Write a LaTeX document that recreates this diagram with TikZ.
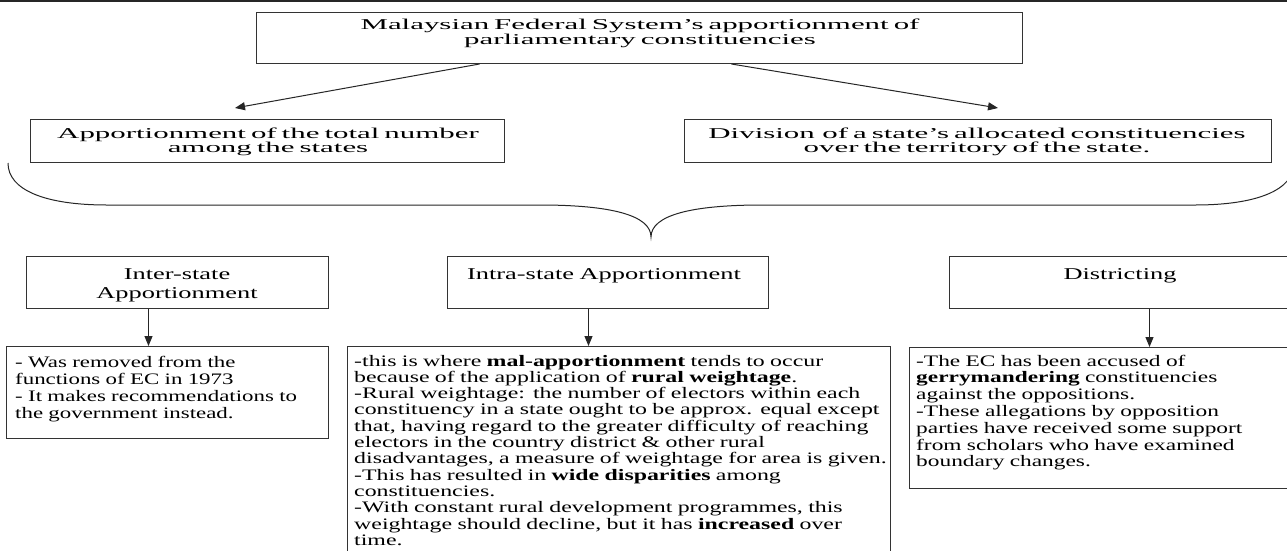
\documentclass[tikz,border=0pt]{standalone}
\usepackage{fontspec}
\setmainfont{Liberation Serif}
\newfontfamily\fA[FakeStretch=2.06]{Liberation Serif}
\newfontfamily\fB[FakeStretch=1.6]{Liberation Serif}
\newfontfamily\fC[FakeStretch=1.43]{Liberation Serif}
\newfontfamily\fD[FakeStretch=1.49]{Liberation Serif}
\newfontfamily\fE[FakeStretch=1.46]{Liberation Serif}
\usetikzlibrary{arrows.meta,calc}
\begin{document}
\begin{tikzpicture}[x=1pt,y=-1pt,
  box/.style={draw=black!80, line width=1pt, inner sep=0pt, anchor=north west},
  arr/.style={-{Triangle[length=10pt,width=8pt]}, line width=1pt, draw=black!85},
  ttop/.style={anchor=base, inner sep=0pt, text width=760pt, align=center, font=\fA\fontsize{15}{15}\selectfont},
  tlev/.style={anchor=base, inner sep=0pt, text width=580pt, align=center, font=\fA\fontsize{15}{14.4}\selectfont},
  tmid/.style={anchor=base, inner sep=0pt, text width=330pt, align=center, font=\fB\fontsize{16.5}{19}\selectfont},
  tbot/.style={anchor=base west, inner sep=0pt, text width=600pt, align=left},
]
\useasboundingbox (0,0) rectangle (1287,550);
\fill[white] (0,0) rectangle (1287,550);
\draw[line width=1.5pt, black!85] (0,0.75) -- (1287,0.75);

% level 1
\node[box, minimum width=766pt, minimum height=51pt] (top) at (256,12) {};
\node[ttop] (topt) at (640,29) {Malaysian Federal System’s apportionment of\\parliamentary constituencies};

% level 2
\node[box, minimum width=474pt, minimum height=43pt] (lbox) at (30,119) {};
\node[tlev] (lboxt) at (268,138.3) {Apportionment of the total number\\among the states};
\node[box, minimum width=587pt, minimum height=43pt] (rbox) at (684,119) {};
\node[tlev] (rboxt) at (977,138.3) {Division\, of a state’s allocated constituencies\\over the territory of the state.};

\coordinate (tipL) at (235,108);
\coordinate (tipR) at (998,108);
\draw[arr] ([xshift=-160pt]top.south) -- (tipL);
\draw[arr] ([xshift=92pt]top.south) -- (tipR);

% brace
\coordinate (brL) at (8,163);
\coordinate (brR) at (1294,163);
\coordinate (brT) at (651,237);
\draw[line width=1pt, black!85] (brL) .. controls (8,190) and (45,205) .. (107,205) -- (540,205)
  .. controls (610,205) and (651,215) .. (brT)
  .. controls (651,215) and (692,205) .. (762,205) -- (1195,205)
  .. controls (1257,205) and (1294,190) .. (brR);

% level 3
\node[box, minimum width=302pt, minimum height=52pt] (inter) at (26,256) {};
\node[tmid] (intert) at (177,279) {Inter-state\\Apportionment};
\node[box, minimum width=321pt, minimum height=52pt] (intra) at (447,256) {};
\node[tmid] (intrat) at (604,279) {Intra-state Apportionment};
\node[box, minimum width=342pt, minimum height=52pt] (dist) at (949,256) {};
\node[tmid] (distt) at (1120,279) {Districting};

% level 4
\node[box, minimum width=322pt, minimum height=92pt] (bl) at (6,346) {};
\node[box, minimum width=543pt, minimum height=210pt] (bm) at (347,346) {};
\node[box, minimum width=386pt, minimum height=141pt] (br) at (909,347) {};

\draw[arr] ([xshift=-29pt]inter.south) -- ([xshift=-29pt]inter.south |- bl.north);
\draw[arr] ([xshift=-19.5pt]intra.south) -- ([xshift=-19.5pt]intra.south |- bm.north);
\draw[arr] ([xshift=29pt]dist.south) -- ([xshift=29pt]dist.south |- br.north);

\node[tbot, font=\fC\fontsize{16}{17.2}\selectfont] (blt) at (15,367) {- Was removed from the\\functions of EC in 1973\\- It makes recommendations to\\the government instead.};
\node[tbot, font=\fD\fontsize{16}{16.3}\selectfont] (bmt) at (354,366) {-this is where \textbf{mal-apportionment} tends to occur\\because of the application of \textbf{rural weightage}.\\-Rural weightage: the number of electors within each\\constituency in a state ought to be approx. equal except\\that, having regard to the greater difficulty of reaching\\electors in the country district \& other rural\\disadvantages, a measure of weightage for area is given.\\-This has resulted in \textbf{wide disparities} among\\constituencies.\\-With constant rural development programmes, this\\weightage should decline, but it has \textbf{increased} over\\time.};
\node[tbot, font=\fE\fontsize{16}{16.8}\selectfont] (brt) at (916,366) {-The EC has been accused of\\\textbf{gerrymandering} constituencies\\against the oppositions.\\-These allegations by opposition\\parties have received some support\\from scholars who have examined\\boundary changes.};
\end{tikzpicture}
\end{document}
